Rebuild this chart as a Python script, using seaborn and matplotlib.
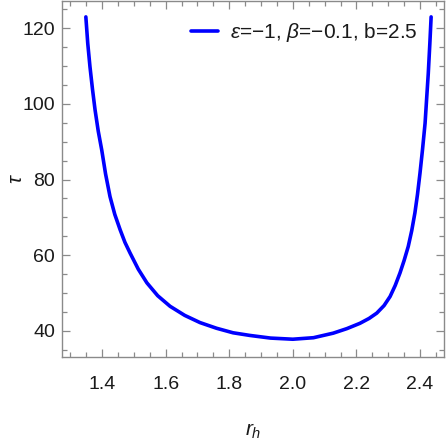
import matplotlib
matplotlib.use("Agg")
import matplotlib.pyplot as plt
import seaborn as sns
import pandas as pd
from matplotlib.ticker import MultipleLocator

r_h = [1.349, 1.355, 1.362, 1.370, 1.378, 1.388, 1.399, 1.411, 1.425, 1.440, 1.457, 1.472, 1.488,
       1.514, 1.541, 1.575, 1.614, 1.660, 1.708, 1.760, 1.812, 1.865, 1.930, 2.000,
       2.065, 2.127, 2.170, 2.211, 2.240, 2.264, 2.287, 2.306, 2.322, 2.337, 2.350, 2.363,
       2.374, 2.384, 2.392, 2.400, 2.408, 2.416, 2.421, 2.426, 2.431, 2.435]
tau = [123.0, 116.0, 109.8, 103.8, 98.4, 92.8, 87.8, 81.5, 75.5, 70.8, 66.7, 63.4, 60.6,
       56.3, 52.7, 49.3, 46.5, 44.1, 42.2, 40.7, 39.5, 38.8, 38.1, 37.8,
       38.2, 39.4, 40.6, 42.0, 43.3, 44.7, 46.7, 49.1, 52.0, 55.3, 58.6, 62.3,
       66.5, 71.2, 76.0, 81.7, 88.0, 94.9, 101.5, 108.0, 116.0, 123.0]
x_ticks = [1.4, 1.6, 1.8, 2.0, 2.2, 2.4]
x_ticklabels = ["1.4", "1.6", "1.8", "2.0", "2.2", "2.4"]
y_ticks = [40, 60, 80, 100, 120]
y_ticklabels = ["40", "60", "80", "100", "120"]

df = pd.DataFrame({"r_h": r_h, "tau": tau})

sns.set_style("ticks")
plt.rcParams['font.family'] = ['Liberation Sans', 'DejaVu Sans']
plt.rcParams['mathtext.fontset'] = 'custom'
plt.rcParams['mathtext.rm'] = 'Liberation Sans'
plt.rcParams['mathtext.it'] = 'Liberation Sans:italic'

fig = plt.figure(figsize=(4.47, 4.47), dpi=100)
ax = fig.add_axes([62/447, 90/447, 382/447, 356/447])

sns.lineplot(data=df, x="r_h", y="tau", ax=ax, color=(0, 0, 1), linewidth=2.6,
             label=r"$\varepsilon$=−1, $\beta$=−0.1, b=2.5", sort=False)

ax.set_xlim(1.274, 2.4755)
ax.set_ylim(33.1, 127.2)
ax.xaxis.set_minor_locator(MultipleLocator(0.05))
ax.yaxis.set_minor_locator(MultipleLocator(5))
ax.set_xticks(x_ticks)
ax.set_xticklabels(x_ticklabels)
ax.set_yticks(y_ticks)
ax.set_yticklabels(y_ticklabels)

frame = "#8a8a8a"
for s in ax.spines.values():
    s.set_color(frame)
    s.set_linewidth(1.0)
ax.tick_params(which="both", direction="in", top=True, right=True, color=frame,
               labelcolor="#1a1a1a", labelsize=14, width=0.9)
ax.tick_params(which="major", length=6)
ax.tick_params(axis="x", which="major", pad=14)
ax.tick_params(axis="y", which="major", pad=5)
ax.tick_params(which="minor", length=3.5)

ax.set_xlabel("$r_h$", fontsize=15, color="#1a1a1a", labelpad=20)
ax.set_ylabel(r"$\tau$", fontsize=15, color="#1a1a1a")
ax.yaxis.set_label_coords(-0.095, 0.5)

leg = ax.legend(loc="upper right", frameon=False, fontsize=15, handlelength=1.3,
                handletextpad=0.6, borderaxespad=0.3, bbox_to_anchor=(0.97, 0.985))
for t in leg.get_texts():
    t.set_color("#1a1a1a")

fig.savefig("out.png", dpi=100)
